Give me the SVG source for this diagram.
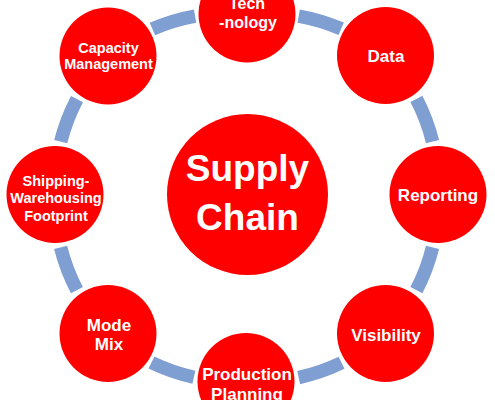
<svg xmlns="http://www.w3.org/2000/svg" width="495" height="400" viewBox="0 0 495 400">
<style>
.arc{fill:none;stroke:#7F9ED2;stroke-width:13.5;stroke-linecap:butt;stroke-dasharray:0 35 30 100}
.node{fill:#FE0000}
.t{font-family:"Liberation Sans",Arial,sans-serif;font-weight:bold;fill:#fff;text-anchor:middle}
.s{font-size:14.5px}
.m{font-size:17px}
.big{font-size:37px}
</style>
<rect width="495" height="400" fill="#fff"/>
<g id="connectors">
<path class="arc" pathLength="100" d="M247,14 A192,192 0 0 1 385.5,55.5"/>
<path class="arc" pathLength="100" d="M385.5,55.5 A192,192 0 0 1 438,194.5"/>
<path class="arc" pathLength="100" d="M438,194.5 A192,192 0 0 1 385.5,333.5"/>
<path class="arc" pathLength="100" d="M385.5,333.5 A192,192 0 0 1 246,381.5"/>
<path class="arc" pathLength="100" d="M246,381.5 A192,192 0 0 1 108,333.5"/>
<path class="arc" pathLength="100" d="M108,333.5 A192,192 0 0 1 55,194.5"/>
<path class="arc" pathLength="100" d="M55,194.5 A192,192 0 0 1 108,56"/>
<path class="arc" pathLength="100" d="M108,56 A192,192 0 0 1 247,14"/>
</g>
<g id="center">
<circle class="node" cx="247.5" cy="194.5" r="80.5"/>
<text class="t big" x="247.5" y="181">Supply</text>
<text class="t big" x="247.5" y="230">Chain</text>
</g>
<g id="tech">
<circle class="node" cx="247" cy="14" r="48.5"/>
<text class="t" style="font-size:16px" x="247" y="8.5">Tech</text>
<text class="t" style="font-size:16px" x="248" y="28">-nology</text>
</g>
<g id="data">
<circle class="node" cx="385.5" cy="55.5" r="48.5"/>
<text class="t m" x="386" y="62">Data</text>
</g>
<g id="reporting">
<circle class="node" cx="438" cy="194.5" r="48.5"/>
<text class="t m" x="438" y="200.5">Reporting</text>
</g>
<g id="visibility">
<circle class="node" cx="385.5" cy="333.5" r="48.5"/>
<text class="t m" x="386" y="341">Visibility</text>
</g>
<g id="production">
<circle class="node" cx="246" cy="381.5" r="48.5"/>
<text class="t m" x="247" y="380">Production</text>
<text class="t m" x="247" y="400">Planning</text>
</g>
<g id="modemix">
<circle class="node" cx="108" cy="333.5" r="48.5"/>
<text class="t m" x="109" y="331">Mode</text>
<text class="t m" x="109" y="350">Mix</text>
</g>
<g id="shipping">
<circle class="node" cx="55" cy="194.5" r="48.5"/>
<text class="t s" x="56" y="185.5">Shipping-</text>
<text class="t s" x="56" y="203.3">Warehousing</text>
<text class="t s" x="56" y="221">Footprint</text>
</g>
<g id="capacity">
<circle class="node" cx="108" cy="56" r="48.5"/>
<text class="t s" x="108.5" y="52.8">Capacity</text>
<text class="t s" x="108.5" y="69.4">Management</text>
</g>
</svg>
